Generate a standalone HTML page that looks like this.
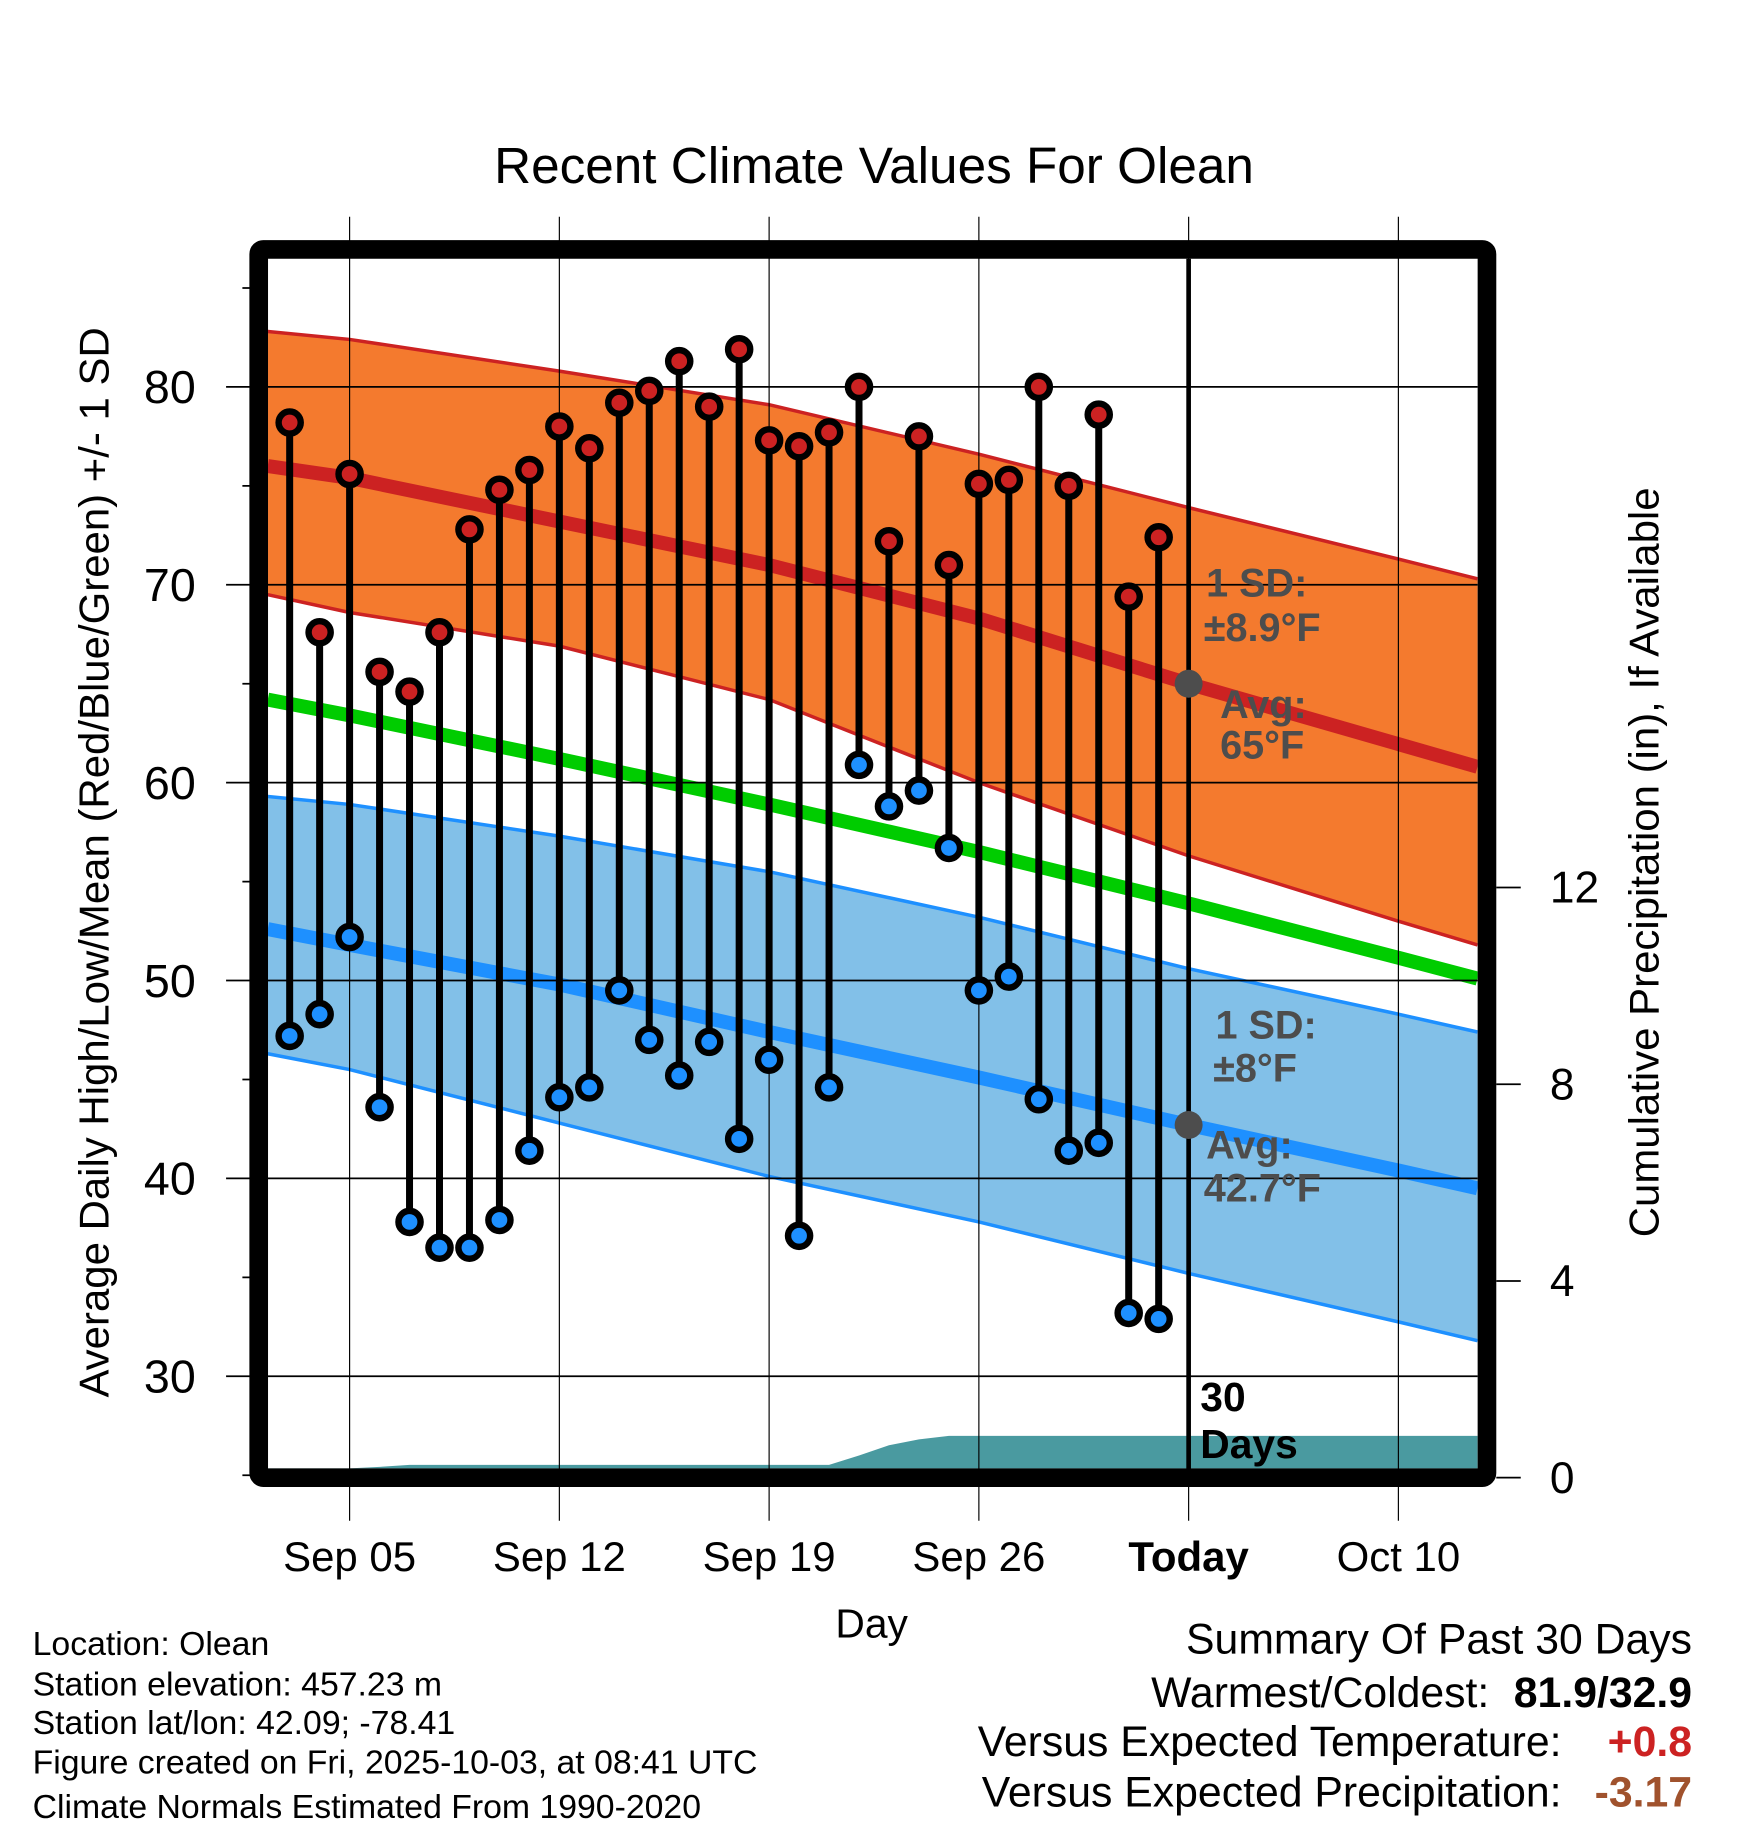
<!DOCTYPE html>
<html><head><meta charset="utf-8"><style>
html,body{margin:0;padding:0;background:#fff;}
svg{display:block;font-family:"Liberation Sans",Arial,sans-serif;}
</style></head><body>
<svg id="chart" width="1748" height="1828" viewBox="0 0 1500 1568.6" xmlns="http://www.w3.org/2000/svg"></svg>
<script>
// ---- data ----
// days measured from Sep 1 (Sep 1 = 1)
const normalDays = [2.27, 5, 12, 19, 26, 33, 40, 42.64];
const highUpper = [82.8, 82.4, 80.8, 79.1, 76.6, 73.9, 71.3, 70.3];
const highMean  = [76.0, 75.4, 73.2, 71.0, 68.3, 65.0, 61.95, 60.8];
const highLower = [69.5, 68.6, 66.9, 64.2, 60.0, 56.3, 53.0, 51.8];
const meanLine  = [64.2, 63.4, 61.2, 58.9, 56.5, 53.9, 51.15, 50.1];
const lowUpper  = [59.3, 58.9, 57.3, 55.5, 53.2, 50.6, 48.3, 47.4];
const lowMean   = [52.6, 51.8, 49.8, 47.4, 45.1, 42.7, 40.4, 39.5];
const lowLower  = [46.3, 45.5, 42.8, 40.1, 37.8, 35.2, 32.75, 31.8];
const obsDays = [3,4,5,6,7,8,9,10,11,12,13,14,15,16,17,18,19,20,21,22,23,24,25,26,27,28,29,30,31,32];
const highs = [78.2,67.6,75.6,65.6,64.6,67.6,72.8,74.8,75.8,78.0,76.9,79.2,79.8,81.3,79.0,81.9,77.3,77.0,77.7,80.0,72.2,77.5,71.0,75.1,75.3,80.0,75.0,78.6,69.4,72.4];
const lows  = [47.2,48.3,52.2,43.6,37.8,36.5,36.5,37.9,41.4,44.1,44.6,49.5,47.0,45.2,46.9,42.0,46.0,37.1,44.6,60.9,58.8,59.6,56.7,49.5,50.2,44.0,41.4,41.8,33.2,32.9];
const precipDays = [2.27,4,5,6,7,21,22,23,24,25,26,33,42.64];
const precipCum  = [0.19,0.19,0.19,0.22,0.26,0.26,0.45,0.66,0.78,0.85,0.85,0.85,0.85];
const xTickDays = [5,12,19,26,33,40];
const xTickLabels = ["Sep 05","Sep 12","Sep 19","Sep 26","Today","Oct 10"];
const yTicks = [30,40,50,60,70,80];
const yMinor = [25,35,45,55,65,75,85];
const pTicks = [0,4,8,12];

// ---- scales ----
const X0=230, X1=1268;
const xs = d => 300 + (d-5)*25.714;
const ys = v => 332 + (80-v)*16.98;
const ps = p => 1268 - p*42.2;

const svg=document.getElementById('chart');
const NS='http://www.w3.org/2000/svg';
function mk(tag,attrs,parent){const e=document.createElementNS(NS,tag);for(const k in attrs)e.setAttribute(k,attrs[k]);(parent||svg).appendChild(e);return e;}
function txt(s,attrs,parent){const e=mk('text',attrs,parent);e.textContent=s;return e;}

const defs=mk('defs',{});
const cp=mk('clipPath',{id:'plotclip'},defs);
mk('rect',{x:X0,y:222,width:X1-X0,height:1038},cp);

const plot=mk('g',{'clip-path':'url(#plotclip)'});



function bandPath(up,lo){
  let d='M'+normalDays.map((dd,i)=>xs(dd)+','+ys(up[i])).join('L');
  d+='L'+normalDays.slice().reverse().map((dd,i)=>xs(dd)+','+ys(lo[lo.length-1-i])).join('L')+'Z';
  return d;
}
function linePath(arr){return 'M'+normalDays.map((dd,i)=>xs(dd)+','+ys(arr[i])).join('L');}

let e;
e=mk('path',{d:bandPath(highUpper,highLower),fill:'#f47a2e'},plot);

e=mk('path',{d:linePath(highUpper),fill:'none',stroke:'#cc2222','stroke-width':3},plot);

e=mk('path',{d:linePath(highLower),fill:'none',stroke:'#cc2222','stroke-width':3},plot);

e=mk('path',{d:bandPath(lowUpper,lowLower),fill:'#82c0e8'},plot);

e=mk('path',{d:linePath(lowUpper),fill:'none',stroke:'#1e90ff','stroke-width':3},plot);

e=mk('path',{d:linePath(lowLower),fill:'none',stroke:'#1e90ff','stroke-width':3},plot);

e=mk('path',{d:linePath(highMean),fill:'none',stroke:'#cc2222','stroke-width':12},plot);

e=mk('path',{d:linePath(meanLine),fill:'none',stroke:'#00cc00','stroke-width':12},plot);

e=mk('path',{d:linePath(lowMean),fill:'none',stroke:'#1e90ff','stroke-width':12},plot);


// precip area
let pd='M'+xs(precipDays[0])+','+ps(0)+'L'+precipDays.map((d,i)=>xs(d)+','+ps(precipCum[i])).join('L')+'L'+xs(precipDays[precipDays.length-1])+','+ps(0)+'Z';
e=mk('path',{d:pd,fill:'#4a9aa0'},plot);


// gridlines
yTicks.forEach(v=>{
  const g=mk('line',{x1:194,x2:X1,y1:ys(v),y2:ys(v),stroke:'#000','stroke-width':1.5});
  
});
yMinor.forEach(v=>{
  const g=mk('line',{x1:208,x2:222,y1:ys(v),y2:ys(v),stroke:'#000','stroke-width':1.5});
  
});
xTickDays.forEach(d=>{
  const g=mk('line',{x1:xs(d),x2:xs(d),y1:186,y2:1305,stroke:'#000','stroke-width':1});
  
});

// today line
e=mk('line',{x1:xs(33),x2:xs(33),y1:222,y2:1262,stroke:'#000','stroke-width':4});


// annotations
const ann=[["1 SD:",1035,512],["±8.9°F",1033,550],["Avg:",1047,616],["65°F",1047,651],["1 SD:",1043,891],["±8°F",1041,928],["Avg:",1035,994],["42.7°F",1033,1031]];
ann.forEach(a=>{const t=txt(a[0],{x:a[1],y:a[2],'font-size':34,'font-weight':'bold',fill:'#4d4d4d'});
  });
[[65],[42.7]].forEach(v=>{const c=mk('circle',{cx:xs(33),cy:ys(v[0]),r:12,fill:'#4d4d4d'});
  });
e=txt('30',{x:1030,y:1211,'font-size':35,'font-weight':'bold',fill:'#000'});

e=txt('Days',{x:1030,y:1251,'font-size':35,'font-weight':'bold',fill:'#000'});


// stems & dots
obsDays.forEach((d,i)=>{
  const x=xs(d);
  const s=mk('line',{x1:x,x2:x,y1:ys(highs[i]),y2:ys(lows[i]),stroke:'#000','stroke-width':6});
  
});
obsDays.forEach((d,i)=>{
  const x=xs(d);
  const h=mk('circle',{cx:x,cy:ys(highs[i]),r:9.5,fill:'#cc2222',stroke:'#000','stroke-width':5.5});
  
  const l=mk('circle',{cx:x,cy:ys(lows[i]),r:9.5,fill:'#1e90ff',stroke:'#000','stroke-width':5.5});
  
});

// frame
e=mk('rect',{x:222,y:214,width:1054,height:1054,fill:'none',stroke:'#000','stroke-width':16,rx:4});


// y labels
yTicks.forEach(v=>{const t=txt(String(v),{x:168,y:ys(v)+14,'font-size':40,'text-anchor':'end'});
  });
pTicks.forEach(p=>{
  const l=mk('line',{x1:1284,x2:1305,y1:ps(p),y2:ps(p),stroke:'#000','stroke-width':1.5});
  
  const t=txt(String(p),{x:1330,y:ps(p)+13,'font-size':38});
  
});
xTickDays.forEach((d,i)=>{const t=txt(xTickLabels[i],{x:xs(d),y:1348,'font-size':36,'text-anchor':'middle','font-weight':xTickLabels[i]==='Today'?'bold':'normal'});
  });

// titles
e=txt('Recent Climate Values For Olean',{x:750,y:157,'font-size':44,'text-anchor':'middle'});

e=txt('Day',{x:748,y:1405,'font-size':35,'text-anchor':'middle'});

e=txt('Average Daily High/Low/Mean (Red/Blue/Green) +/- 1 SD',{x:0,y:0,'font-size':36,'text-anchor':'middle',transform:'translate(93,740) rotate(-90)'});

e=txt('Cumulative Precipitation (in), If Available',{x:0,y:0,'font-size':36,'text-anchor':'middle',transform:'translate(1423,740) rotate(-90)'});


// info
const info=["Location: Olean","Station elevation: 457.23 m","Station lat/lon: 42.09; -78.41","Figure created on Fri, 2025-10-03, at 08:41 UTC","Climate Normals Estimated From 1990-2020"];
const infoY=[1420,1455,1488,1522,1560];
info.forEach((s,i)=>{const t=txt(s,{x:28,y:infoY[i],'font-size':29});
  });

// summary
const sum=[["Summary Of Past 30 Days",1452,1419,'normal','#000'],["Warmest/Coldest:",1278,1465,'normal','#000'],["81.9/32.9",1452,1465,'bold','#000'],
["Versus Expected Temperature:",1340,1507,'normal','#000'],["+0.8",1452,1507,'bold','#cc2222'],
["Versus Expected Precipitation:",1340,1550,'normal','#000'],["-3.17",1452,1550,'bold','#a0522d']];
sum.forEach(s=>{const t=txt(s[0],{x:s[1],y:s[2],'font-size':36.7,'text-anchor':'end','font-weight':s[3],fill:s[4]});
  });
</script>
</body></html>
